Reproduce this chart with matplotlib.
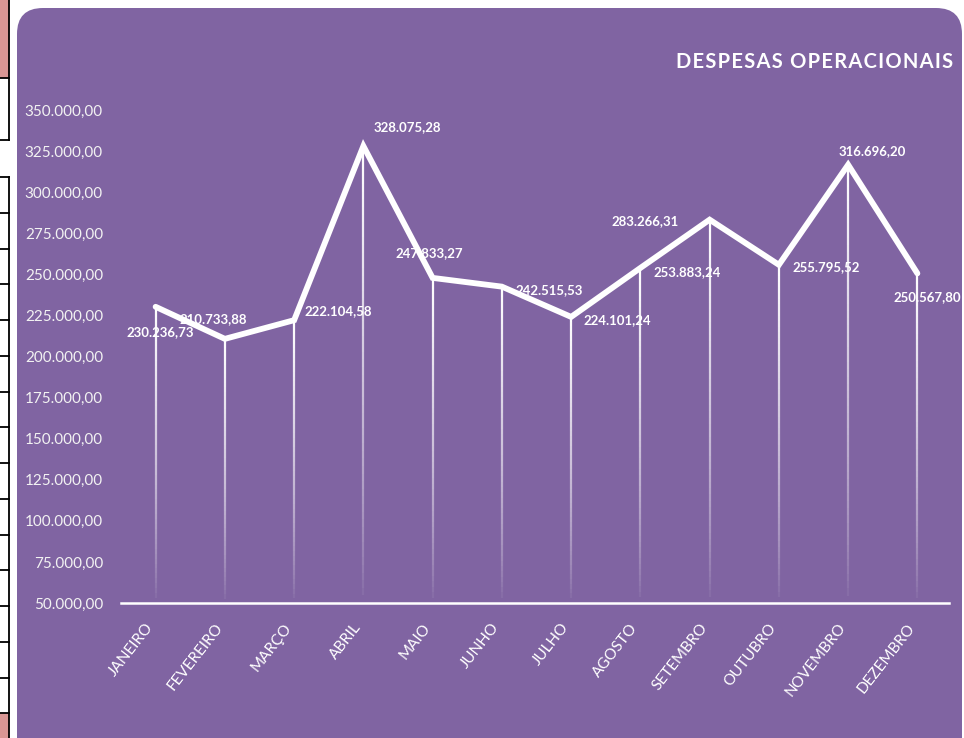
import numpy as np
import matplotlib.pyplot as plt
from matplotlib.patches import FancyBboxPatch, Rectangle
from matplotlib.collections import LineCollection

# --- DATA ---
months = ["JANEIRO", "FEVEREIRO", "MARÇO", "ABRIL", "MAIO", "JUNHO",
          "JULHO", "AGOSTO", "SETEMBRO", "OUTUBRO", "NOVEMBRO", "DEZEMBRO"]
despesas = [230236.73, 210733.88, 222104.58, 328075.28, 247833.27, 242515.53,
            224101.24, 253883.24, 283266.31, 255795.52, 316696.20, 250567.80]
y_ticks = [50000, 75000, 100000, 125000, 150000, 175000, 200000,
           225000, 250000, 275000, 300000, 325000, 350000]

# label offsets in pixels (dx, dy), as placed in the original sheet
label_off = [(5, -25), (-12, 20), (44, 9), (44, 19), (-3, 25), (47, -3),
             (46, -3), (47, -4), (-65, -1), (47, -2), (24, 14), (10, -24)]

PURPLE = "#8064A2"
PINK = "#D99694"
FONT = ["Lato", "DejaVu Sans"]

def fmt_br(v):
    s = f"{v:,.2f}"
    return s.replace(",", "X").replace(".", ",").replace("X", ".")

W, H = 964, 738
fig = plt.figure(figsize=(W / 100, H / 100), dpi=100)

# --- BACKGROUND (pixel coords) ---
bg = fig.add_axes([0, 0, 1, 1])
bg.set_xlim(0, W)
bg.set_ylim(H, 0)
bg.axis("off")

# spreadsheet cells peeking out on the left
bg.add_patch(Rectangle((0, 0), 8.5, 78, color=PINK, lw=0))
bg.add_patch(Rectangle((0, 713), 8.5, 30, color=PINK, lw=0))
bg.plot([8.5, 8.5], [0, 140], color="black", lw=1.3)
bg.plot([8.5, 8.5], [177, H], color="black", lw=1.3)
for yy in [78, 140] + list(np.arange(177, 714, 35.75)):
    bg.plot([0, 8.5], [yy, yy], color="black", lw=1.3)

# purple rounded panel
bg.add_patch(FancyBboxPatch((17, 8), 945, 780, boxstyle="round,pad=0,rounding_size=26",
                            facecolor=PURPLE, edgecolor="none"))

title = "\u200a".join("DESPESAS OPERACIONAIS")
bg.text(953, 62, title, ha="right", va="center", color="white", fontsize=14.5,
        fontweight="bold", family=FONT)

# --- CHART ---
ax = fig.add_axes([121 / W, (H - 603) / H, (952 - 121) / W, (603 - 110) / H])
ax.patch.set_alpha(0)
x = np.arange(len(months))

# drop lines with fading gradient
for xi, v in zip(x, despesas):
    ys = np.linspace(v, 50000, 61)
    segs = [[(xi, ys[i]), (xi, ys[i + 1])] for i in range(60)]
    t = np.linspace(0, 1, 60)
    cols = [(1, 1, 1, a) for a in (1 - t) ** 0.7]
    ax.add_collection(LineCollection(segs, colors=cols, linewidths=1.6, zorder=2))

ax.plot(x, despesas, color="white", lw=4.2, solid_joinstyle="miter",
        solid_capstyle="round", zorder=3)

for xi, v, (dx, dy) in zip(x, despesas, label_off):
    ax.annotate(fmt_br(v), (xi, v), xytext=(dx, dy), textcoords="offset pixels",
                ha="center", va="center", color="white", fontsize=9.5,
                fontweight="bold", family=FONT, zorder=4)

ax.set_xlim(-0.5, 11.5)
ax.set_ylim(50000, 350000)
ax.set_yticks(y_ticks)
ax.set_yticklabels([fmt_br(v) for v in y_ticks], color="#F2F2F2", fontsize=11, family=FONT)
ax.set_xticks(x)
ax.set_xticklabels([])
ax.tick_params(length=0, pad=13)

for xi, m in zip(x, months):
    ax.annotate(m, (xi, 50000), xytext=(-5, -22), textcoords="offset pixels",
                ha="right", va="center", rotation=52, rotation_mode="anchor",
                color="white", fontsize=11, family=FONT)

for s in ["top", "right", "left"]:
    ax.spines[s].set_visible(False)
ax.spines["bottom"].set_color("white")
ax.spines["bottom"].set_linewidth(1.8)
ax.spines["bottom"].set_bounds(-0.5, 11.45)

fig.savefig("out.png", dpi=100)
